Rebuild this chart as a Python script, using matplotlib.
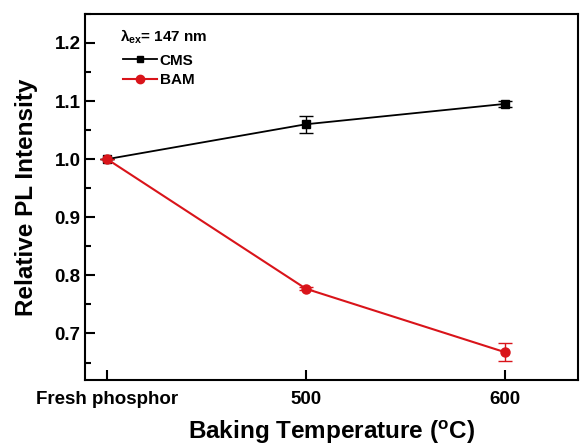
import matplotlib
matplotlib.use('Agg')
import matplotlib.pyplot as plt
from matplotlib.ticker import MultipleLocator
from matplotlib.lines import Line2D

#fuente tipo Arial en negritas
plt.rcParams['font.family'] = ['Liberation Sans', 'DejaVu Sans']
plt.rcParams['font.weight'] = 'bold'
plt.rcParams['mathtext.fontset'] = 'custom'
plt.rcParams['mathtext.rm'] = 'Liberation Sans:bold'
plt.rcParams['mathtext.it'] = 'Liberation Sans:bold'
plt.rcParams['mathtext.bf'] = 'Liberation Sans:bold'

#datos
categorias = ['Fresh phosphor', '500', '600']
cms = [1.0, 1.060, 1.095]
cms_err = [0.0, 0.015, 0.005]
bam = [1.0, 0.777, 0.668]
bam_err = [0.0, 0.003, 0.015]

x = list(range(len(categorias)))
rojo = '#d9141a'

fig = plt.figure(figsize=(5.8, 4.46), dpi=100)
ax = fig.add_axes([0.147, 0.148, 0.85, 0.821])

ax.errorbar(x, cms, yerr=cms_err, color='black', marker='s', ms=6,
            lw=1.3, capsize=5, elinewidth=1, capthick=1)
ax.errorbar(x, bam, yerr=bam_err, color=rojo, marker='o', ms=6.5,
            lw=1.5, capsize=5, elinewidth=1, capthick=1)

ax.set_xlim(-0.11, 2.37)
ax.set_ylim(0.62, 1.25)
ax.set_xticks(x)
ax.set_xticklabels(categorias)
ax.yaxis.set_major_locator(MultipleLocator(0.1))
ax.yaxis.set_minor_locator(MultipleLocator(0.05))
ax.yaxis.set_major_formatter(plt.FormatStrFormatter('%.1f'))

ax.tick_params(axis='both', which='major', direction='in', length=7, width=1.5,
               labelsize=13.5, top=False, right=False)
ax.tick_params(axis='x', which='major', pad=8)
ax.tick_params(axis='y', which='minor', direction='in', length=4, width=1.5)
for lado in ax.spines.values():
    lado.set_linewidth(1.5)

ax.set_xlabel('Baking Temperature ($^{o}$C)', fontsize=17.5, fontweight='bold', labelpad=8)
ax.set_ylabel('Relative PL Intensity', fontsize=17.5, fontweight='bold', labelpad=12)

ax.text(0.07, 0.925, r'$\lambda_{ex}$= 147 nm', transform=ax.transAxes, fontsize=11,
        fontweight='bold')
manijas = [Line2D([], [], color='black', marker='s', ms=5, lw=1.3),
           Line2D([], [], color=rojo, marker='o', ms=6, lw=1.5)]
ax.legend(manijas, ['CMS', 'BAM'], loc='upper left', bbox_to_anchor=(0.055, 0.92),
          frameon=False, fontsize=11, handlelength=2.2, handletextpad=0.2,
          labelspacing=0.35, borderpad=0.2)

fig.savefig('out.png', dpi=100)
